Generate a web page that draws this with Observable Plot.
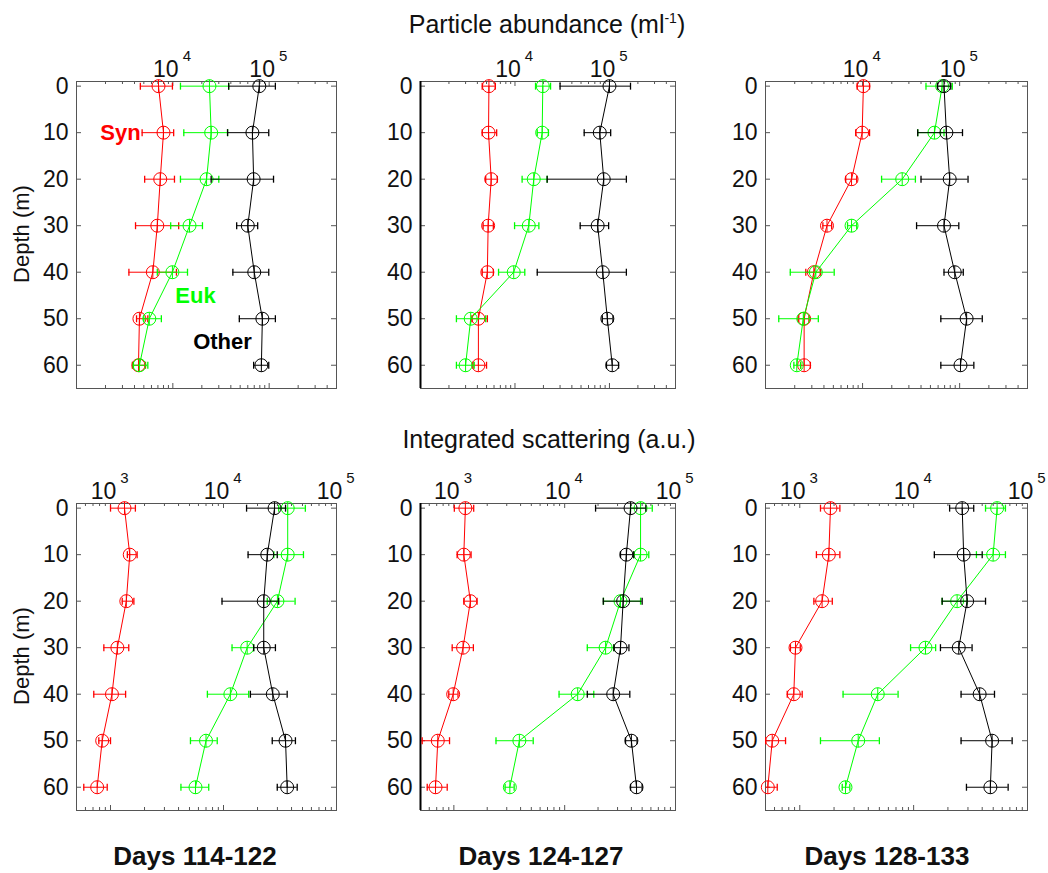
<!DOCTYPE html>
<html><head><meta charset="utf-8">
<script src="https://cdn.jsdelivr.net/npm/d3@7"></script>
<script src="https://cdn.jsdelivr.net/npm/@observablehq/plot@0.6"></script>
<style>
body{margin:0;background:#fff;font-family:"Liberation Sans",Arial,sans-serif;}
#root{position:relative;width:1048px;height:873px;overflow:hidden;background:#fff;}
.pane{position:absolute;}
.lbl{position:absolute;white-space:nowrap;color:#111;line-height:1;}
</style></head><body><div id="root"></div>
<script>
// ---- data ----
const depths = [0, 10, 20, 30, 40, 50, 60];
const depthTicks = [0, 10, 20, 30, 40, 50, 60];
const abundTicks = [1e4, 1e5];
const scatTicks = [1e3, 1e4, 1e5];
const abundDomain = [1e3, 5e5];
const scatDomain = [5e2, 1e5];
const depthDomain = [-1, 65];
const periods = ["Days 114-122", "Days 124-127", "Days 128-133"];
const groups = ["Syn", "Euk", "Other"];
const groupColors = ["#ff0000", "#00ff00", "#000000"];
const groupLabelX = [2860, 17200, 32800];
const groupLabelY = [10, 45, 55];

// each entry: [value, low, high] per depth
const abund114Syn = [[7100,4600,9900],[8000,4800,10200],[7400,5100,10400],[6900,4100,11500],[6200,3500,10900],[4500,4200,5500],[4400,3800,5200]];
const abund114Euk = [[24000,12000,38000],[25000,13000,37000],[22400,12000,30000],[14900,9500,20300],[9900,6900,14200],[5700,5000,7600],[4500,3900,5500]];
const abund114Other = [[79000,38000,116000],[67000,37000,99000],[69000,25000,111000],[60000,46000,76000],[70000,42000,99000],[85000,49000,116000],[83000,69000,99000]];

const abund124Syn = [[5300,4500,6200],[5250,4500,6400],[5600,4900,6500],[5200,4600,5900],[5100,4500,5900],[4100,3500,5100],[4100,3600,5000]];
const abund124Euk = [[19700,16500,23800],[19400,17200,22600],[15800,11900,21900],[14000,9900,17900],[9700,6700,12700],[3400,2400,4900],[3000,2400,3700]];
const abund124Other = [[100000,30000,167000],[79000,54000,103000],[87000,21900,151000],[75000,49000,98000],[85000,17200,151000],[95000,84000,109000],[107000,93000,125000]];

const abund128Syn = [[10200,8800,11800],[9900,8500,11800],[7700,6700,8700],[4300,3900,4800],[3150,2600,3700],[2500,2200,2800],[2500,2300,2900]];
const abund128Euk = [[66000,45000,84000],[55000,37000,69000],[25600,15700,35000],[7700,7000,8700],[3300,1800,5100],[2450,1370,3500],[2100,1960,2300]];
const abund128Other = [[69000,59000,81000],[73000,37000,107000],[79000,40000,122000],[69000,36000,98000],[89000,69000,109000],[118000,64000,171000],[102000,64000,140000]];

const scat114Syn = [[1330,1000,1660],[1480,1410,1720],[1380,1270,1610],[1150,873,1450],[1030,711,1360],[844,788,1000],[762,580,935]];
const scat114Euk = [[37000,30800,53000],[37000,27900,51000],[30000,24400,43000],[16200,11900,18500],[11500,7200,16700],[7000,5100,8800],[5650,4200,7400]];
const scat114Other = [[28300,16000,35400],[24400,16500,29900],[22700,9700,30800],[22700,18500,28800],[27300,17300,36600],[35400,27000,43300],[36600,29900,44900]];

const scat124Syn = [[1270,1010,1510],[1230,1070,1430],[1410,1230,1620],[1210,966,1500],[986,900,1090],[716,518,914],[683,575,871]];
const scat124Euk = [[48400,39300,61700],[48400,42000,57400],[31900,22400,48400],[23400,16000,27800],[13100,8900,18300],[3900,2400,5200],[3200,2900,3500]];
const scat124Other = [[39300,19000,54000],[36000,31900,42000],[33700,22300,50000],[31900,27800,38000],[27400,16000,38700],[40000,35400,45000],[44500,39300,50000]];

const scat128Syn = [[1860,1520,2250],[1800,1400,2250],[1570,1330,1930],[917,828,1010],[886,776,1050],[573,500,750],[524,468,634]];
const scat128Euk = [[54100,42800,64000],[49900,35600,64000],[24100,17800,29500],[12700,9400,15600],[4840,2400,7300],[3260,1520,5000],[2520,2360,2750]];
const scat128Other = [[26700,20700,33700],[27500,15200,40000],[29500,17800,42800],[24900,17200,32600],[38000,26100,51300],[48900,26100,73300],[47200,29100,67600]];

// ---- layout ----
const colL = [76, 420, 765];
const colW = [260, 255, 262];
const rowT = [81, 503];
const panelH = 307;
const mL = 76, mT = 56, mR = 14, mB = 10;
const FONT = '"Liberation Sans", Arial, Helvetica, sans-serif';
const axisGray = "#555";

const vbar = {draw(ctx, size) { const r = Math.sqrt(size / Math.PI); ctx.moveTo(0, -r); ctx.lineTo(0, r); }};

function panel(seriesList, domain, labelTicks, col, row, withLabels) {
  const W = colW[col], H = panelH;
  const decades = [1e2, 1e3, 1e4, 1e5, 1e6];
  const major = decades.filter(v => v >= domain[0] && v <= domain[1]);
  const minor = [];
  for (const p of decades) for (let m = 2; m < 10; m++) { const v = p * m; if (v > domain[0] && v < domain[1]) minor.push(v); }
  const marks = [
    Plot.frame({stroke: axisGray}),
    Plot.tickX(major, {x: d => d, insetBottom: H - 5, stroke: axisGray}),
    Plot.tickX(major, {x: d => d, insetTop: H - 5, stroke: axisGray}),
    Plot.tickX(minor, {x: d => d, insetBottom: H - 3, stroke: axisGray}),
    Plot.tickX(minor, {x: d => d, insetTop: H - 3, stroke: axisGray}),
    Plot.tickY(depthTicks, {y: d => d, insetRight: W - 5, stroke: axisGray}),
    Plot.tickY(depthTicks, {y: d => d, insetLeft: W - 5, stroke: axisGray}),
    Plot.axisY(depthTicks, {anchor: "left", tickSize: 0, tickPadding: 8, fontSize: 23, label: null, fill: "#111"}),
    Plot.text(labelTicks, {x: d => d, text: () => "10", frameAnchor: "top", lineAnchor: "bottom", dy: -5, dx: -7, fontSize: 23, fill: "#111"}),
    Plot.text(labelTicks, {x: d => d, text: d => String(Math.round(Math.log10(d))), frameAnchor: "top", lineAnchor: "bottom", dy: -21, dx: 14, fontSize: 15, fill: "#111"})
  ];
  if (col === 1) marks.push(Plot.ruleX([domain[0]], {stroke: "#000", strokeWidth: 2}));
  seriesList.forEach((ser, i) => {
    const c = groupColors[i];
    const rows = depths.map((d, j) => ({depth: d, v: ser[j][0], lo: ser[j][1], hi: ser[j][2]}));
    marks.push(
      Plot.line(rows, {x: "v", y: "depth", stroke: c, strokeWidth: 1, clip: true}),
      Plot.ruleY(rows, {y: "depth", x1: "lo", x2: "hi", stroke: c, strokeWidth: 1, clip: true}),
      Plot.dot(rows, {x: "lo", y: "depth", symbol: vbar, r: 3.5, stroke: c, fill: "none", strokeWidth: 1.3, clip: true}),
      Plot.dot(rows, {x: "hi", y: "depth", symbol: vbar, r: 3.5, stroke: c, fill: "none", strokeWidth: 1.3, clip: true}),
      Plot.dot(rows, {x: "v", y: "depth", r: 6.5, stroke: c, fill: "none", strokeWidth: 1}),
      Plot.dot(rows, {x: "v", y: "depth", symbol: vbar, r: 6.5, stroke: c, fill: "none", strokeWidth: 1})
    );
  });
  if (withLabels) {
    const lab = groups.map((g, i) => ({g, x: groupLabelX[i], y: groupLabelY[i], c: groupColors[i]}));
    marks.push(Plot.text(lab, {x: "x", y: "y", text: "g", fill: d => d.c, fontSize: 22, fontWeight: "bold"}));
  }
  const svg = Plot.plot({
    width: mL + W + mR, height: mT + H + mB,
    marginLeft: mL, marginTop: mT, marginRight: mR, marginBottom: mB,
    x: {type: "log", domain, axis: null},
    y: {domain: depthDomain, reverse: true, axis: null},
    color: {type: "identity"},
    style: {fontFamily: FONT, fontSize: "23px", background: "transparent", overflow: "visible", color: "#111"},
    marks
  });
  const div = document.createElement("div");
  div.className = "pane";
  div.style.left = (colL[col] - mL) + "px";
  div.style.top = (rowT[row] - mT) + "px";
  div.appendChild(svg);
  return div;
}

const root = document.getElementById("root");
const topSets = [[abund114Syn, abund114Euk, abund114Other], [abund124Syn, abund124Euk, abund124Other], [abund128Syn, abund128Euk, abund128Other]];
const botSets = [[scat114Syn, scat114Euk, scat114Other], [scat124Syn, scat124Euk, scat124Other], [scat128Syn, scat128Euk, scat128Other]];
topSets.forEach((s, c) => root.appendChild(panel(s, abundDomain, abundTicks, c, 0, c === 0)));
botSets.forEach((s, c) => root.appendChild(panel(s, scatDomain, scatTicks, c, 1, false)));

function label(html, x, y, size, extra, weight) {
  const d = document.createElement("div");
  d.className = "lbl";
  d.innerHTML = html;
  d.style.left = x + "px";
  d.style.top = y + "px";
  d.style.fontSize = size + "px";
  if (weight) d.style.fontWeight = weight;
  d.style.transform = extra || "translate(-50%, 0)";
  root.appendChild(d);
  return d;
}
label('Particle abundance (ml<span style="font-size:14px;position:relative;top:-10px">-1</span>)', 547, 12, 25);
label('Integrated scattering (a.u.)', 549, 427, 25);
const daysX = [195, 541, 887];
periods.forEach((p, i) => label(p, daysX[i], 843, 26, null, "bold"));
label('Depth (m)', 22, 234, 22, "translate(-50%, -50%) rotate(-90deg)");
label('Depth (m)', 22, 656, 22, "translate(-50%, -50%) rotate(-90deg)");
</script></body></html>
